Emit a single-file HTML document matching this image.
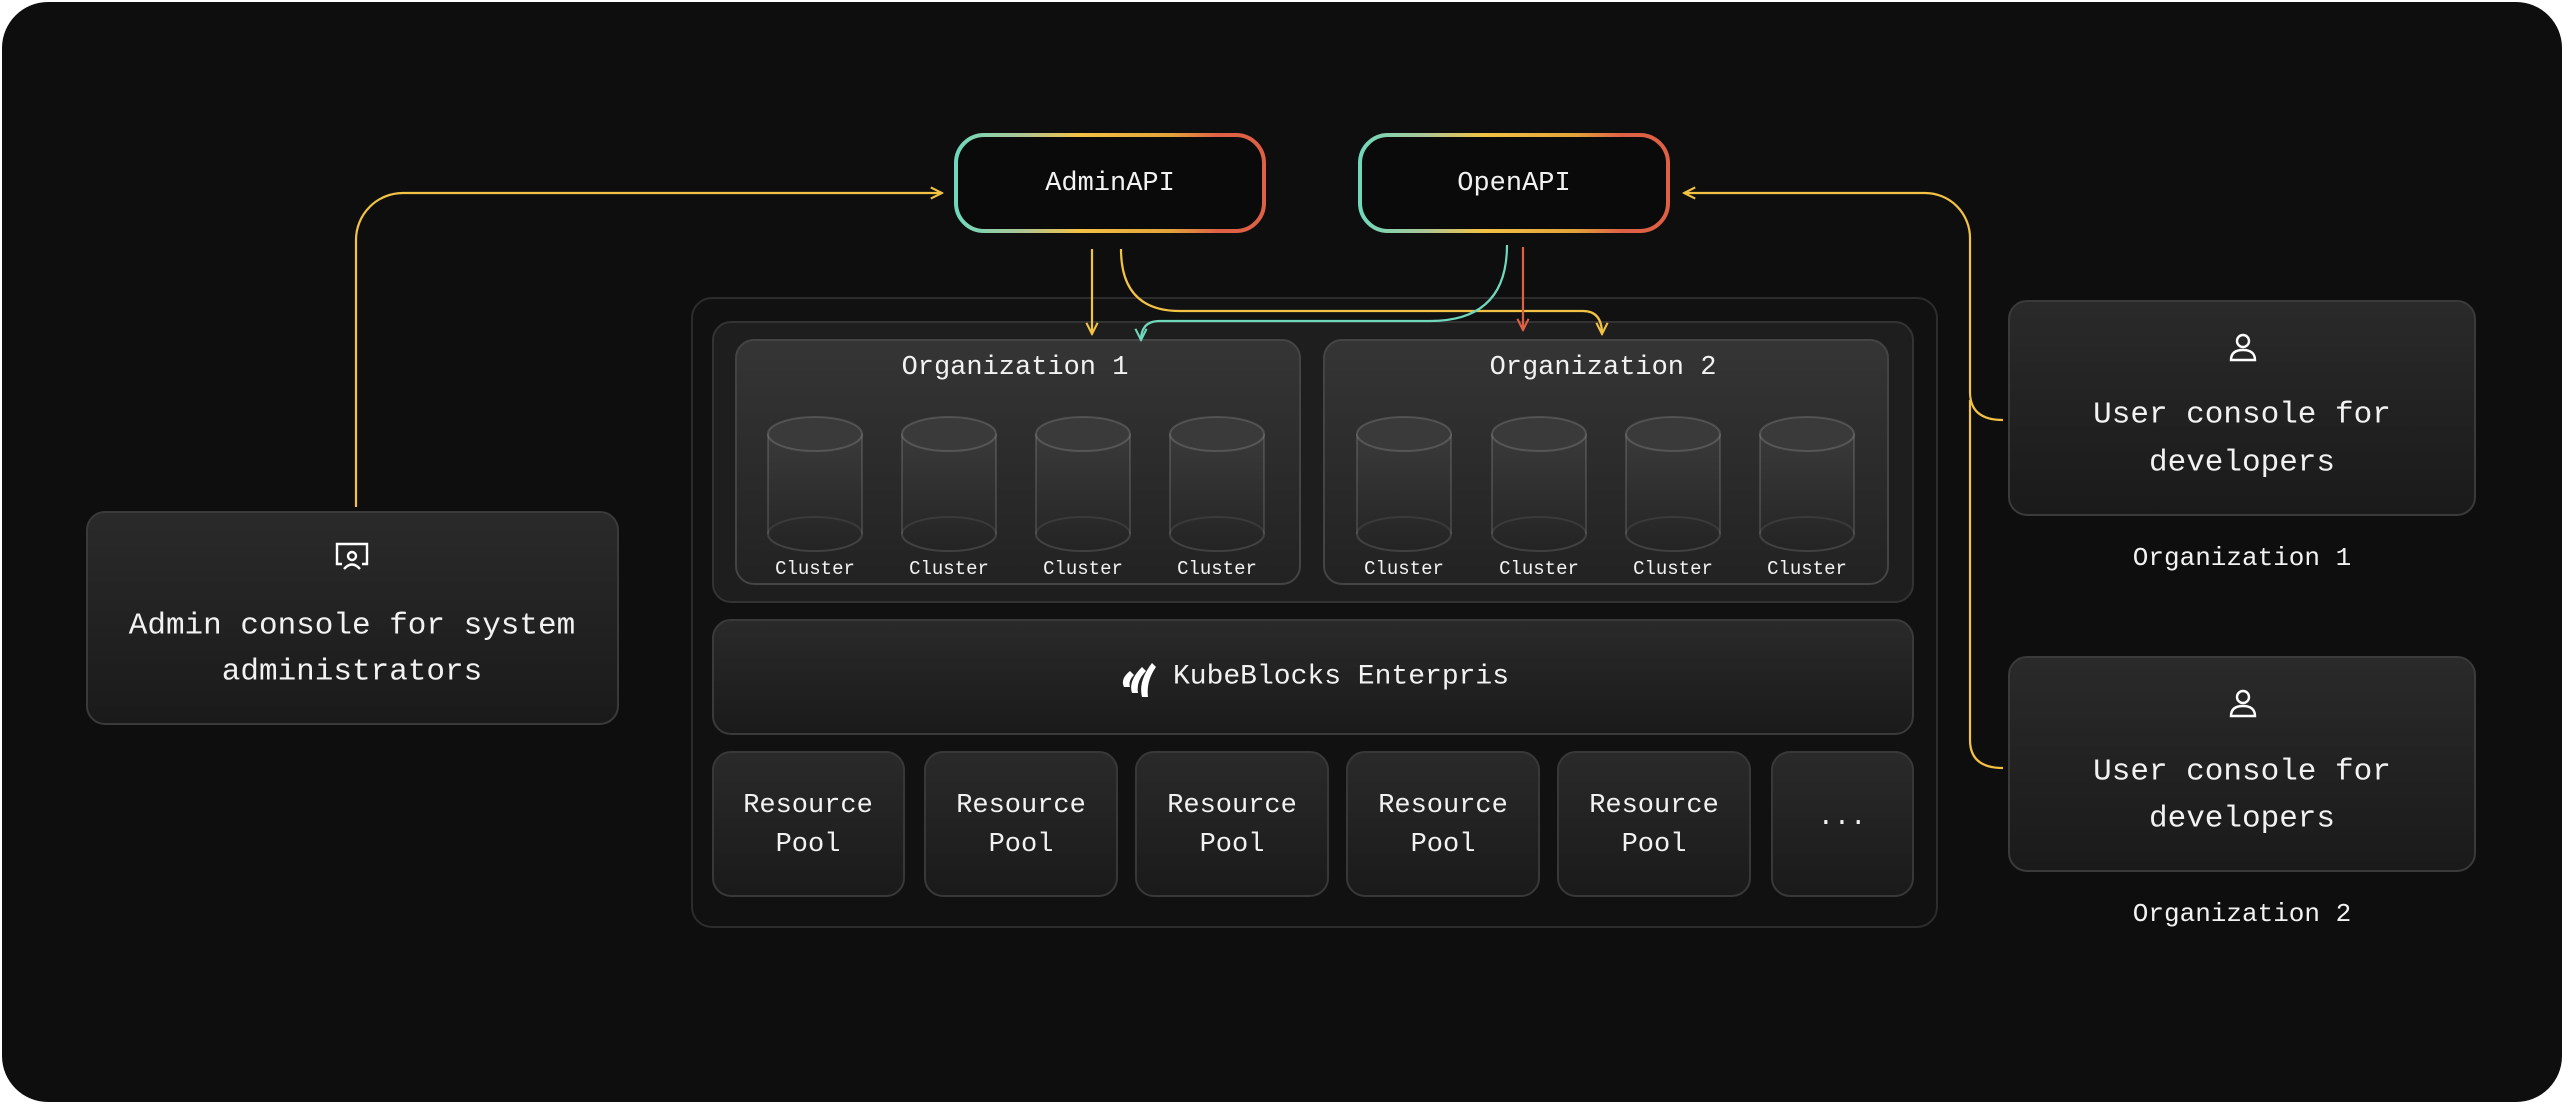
<!DOCTYPE html>
<html><head><meta charset="utf-8"><style>
html,body{margin:0;padding:0;background:#fff;}
svg{display:block}
text{font-family:"Liberation Mono",monospace;fill:#f2f2f2;text-anchor:middle;dominant-baseline:central}
</style></head><body>
<svg width="2564" height="1104" viewBox="0 0 2564 1104" xmlns="http://www.w3.org/2000/svg">
<defs>
<linearGradient id="apig" x1="0" x2="1" y1="0" y2="0">
<stop offset="0" stop-color="#6fd8bb"/><stop offset="0.2" stop-color="#a9c79a"/><stop offset="0.4" stop-color="#f2c244"/><stop offset="0.7" stop-color="#e3a23a"/><stop offset="0.85" stop-color="#df6145"/><stop offset="1" stop-color="#df6145"/>
</linearGradient>
<linearGradient id="box" x1="0" x2="0" y1="0" y2="1"><stop offset="0" stop-color="#2a2a2a"/><stop offset="1" stop-color="#1a1a1a"/></linearGradient>
<linearGradient id="org" x1="0" x2="0" y1="0" y2="1"><stop offset="0" stop-color="#353535"/><stop offset="1" stop-color="#222"/></linearGradient>
<linearGradient id="cyl" x1="0" x2="0" y1="0" y2="1"><stop offset="0" stop-color="#3a3a3a"/><stop offset="1" stop-color="#242424"/></linearGradient>
<marker id="ay" viewBox="0 0 10 10" refX="9" refY="5" markerWidth="14" markerHeight="14" markerUnits="userSpaceOnUse" orient="auto"><path d="M1 1 L9 5 L1 9" fill="none" stroke="#f2c244" stroke-width="1.5"/></marker>
<marker id="ag" viewBox="0 0 10 10" refX="9" refY="5" markerWidth="14" markerHeight="14" markerUnits="userSpaceOnUse" orient="auto"><path d="M1 1 L9 5 L1 9" fill="none" stroke="#6fd8bb" stroke-width="1.5"/></marker>
<marker id="ar" viewBox="0 0 10 10" refX="9" refY="5" markerWidth="14" markerHeight="14" markerUnits="userSpaceOnUse" orient="auto"><path d="M1 1 L9 5 L1 9" fill="none" stroke="#df6145" stroke-width="1.5"/></marker>
<g id="cy">
<path d="M-47 0 V100 A47 17 0 0 0 47 100 V0" fill="url(#cyl)" stroke="rgba(255,255,255,0.13)" stroke-width="2"/>
<path d="M-47 100 A47 17 0 0 1 47 100" fill="none" stroke="rgba(255,255,255,0.08)" stroke-width="2"/>
<ellipse cx="0" cy="0" rx="47" ry="17" fill="#3a3a3a" stroke="rgba(255,255,255,0.15)" stroke-width="2"/>
</g>
</defs>
<rect x="2" y="2" width="2560" height="1100" rx="46" fill="#0e0e0e"/>

<!-- big container -->
<rect x="692" y="298" width="1245" height="629" rx="20" fill="#111" stroke="#2c2c2c" stroke-width="2"/>
<rect x="713" y="322" width="1200" height="280" rx="18" fill="#1e1e1e" stroke="#333" stroke-width="2"/>
<rect x="736" y="340" width="564" height="244" rx="18" fill="url(#org)" stroke="#444" stroke-width="2"/>
<rect x="1324" y="340" width="564" height="244" rx="18" fill="url(#org)" stroke="#444" stroke-width="2"/>
<text x="1015" y="368" font-size="27">Organization 1</text>
<text x="1603" y="368" font-size="27">Organization 2</text>
<use href="#cy" x="815" y="434"/><use href="#cy" x="949" y="434"/><use href="#cy" x="1083" y="434"/><use href="#cy" x="1217" y="434"/>
<use href="#cy" x="1404" y="434"/><use href="#cy" x="1539" y="434"/><use href="#cy" x="1673" y="434"/><use href="#cy" x="1807" y="434"/>
<g font-size="19">
<text x="815" y="569">Cluster</text><text x="949" y="569">Cluster</text><text x="1083" y="569">Cluster</text><text x="1217" y="569">Cluster</text>
<text x="1404" y="569">Cluster</text><text x="1539" y="569">Cluster</text><text x="1673" y="569">Cluster</text><text x="1807" y="569">Cluster</text>
</g>

<!-- connectors -->
<g fill="none" stroke-width="2.2">
<path d="M356 507 V240 A47 47 0 0 1 403 193 H942" stroke="#f2c244" marker-end="url(#ay)"/>
<path d="M2003 420 Q1970 420 1970 392 V238 A45 45 0 0 0 1925 193 H1684" stroke="#f2c244" marker-end="url(#ay)"/>
<path d="M2003 768 Q1970 768 1970 740 V400" stroke="#f2c244"/>
<path d="M1092 249 V334" stroke="#f2c244" marker-end="url(#ay)"/>
<path d="M1121 249 Q1121 311 1180 311 H1583 Q1602 311 1602 334" stroke="#f2c244" marker-end="url(#ay)"/>
<path d="M1507 245 Q1507 321 1430 321 H1160 Q1141 321 1141 340" stroke="#6fd8bb" marker-end="url(#ag)"/>
<path d="M1523 247 V330" stroke="#df6145" marker-end="url(#ar)"/>
</g>

<!-- API boxes -->
<rect x="956" y="135" width="308" height="96" rx="28" fill="#0a0a0a" stroke="url(#apig)" stroke-width="4"/>
<text x="1110" y="184" font-size="27">AdminAPI</text>
<rect x="1360" y="135" width="308" height="96" rx="28" fill="#0a0a0a" stroke="url(#apig)" stroke-width="4"/>
<text x="1514" y="184" font-size="27">OpenAPI</text>

<rect x="713" y="620" width="1200" height="114" rx="18" fill="url(#box)" stroke="#3a3a3a" stroke-width="2"/>
<g fill="#fff" transform="translate(1140,679)">
<path d="M-16 8 Q-20 0 -10 -8 L-6 -4 Q-12 2 -10 8 Z"/>
<path d="M-8 14 Q-12 2 2 -12 L6 -8 Q-4 2 -2 14 Z"/>
<path d="M2 18 Q-2 2 12 -16 L16 -12 Q6 2 8 18 Z"/>
</g>
<text x="1341" y="677" font-size="28">KubeBlocks Enterpris</text>

<g>
<rect x="713" y="752" width="191" height="144" rx="18" fill="url(#box)" stroke="#383838" stroke-width="2"/>
<rect x="925" y="752" width="192" height="144" rx="18" fill="url(#box)" stroke="#383838" stroke-width="2"/>
<rect x="1136" y="752" width="192" height="144" rx="18" fill="url(#box)" stroke="#383838" stroke-width="2"/>
<rect x="1347" y="752" width="192" height="144" rx="18" fill="url(#box)" stroke="#383838" stroke-width="2"/>
<rect x="1558" y="752" width="192" height="144" rx="18" fill="url(#box)" stroke="#383838" stroke-width="2"/>
<rect x="1772" y="752" width="141" height="144" rx="18" fill="url(#box)" stroke="#383838" stroke-width="2"/>
</g>
<g font-size="27">
<text x="808" y="806">Resource</text><text x="808" y="845">Pool</text>
<text x="1021" y="806">Resource</text><text x="1021" y="845">Pool</text>
<text x="1232" y="806">Resource</text><text x="1232" y="845">Pool</text>
<text x="1443" y="806">Resource</text><text x="1443" y="845">Pool</text>
<text x="1654" y="806">Resource</text><text x="1654" y="845">Pool</text>
<text x="1842" y="818">...</text>
</g>

<!-- admin console -->
<rect x="87" y="512" width="531" height="212" rx="18" fill="url(#box)" stroke="#3a3a3a" stroke-width="2"/>
<g fill="none" stroke="#fff" stroke-width="2.4" transform="translate(352,556)">
<path d="M-10 8 H-15 V-12 H15 V8 H10"/>
<circle cx="0" cy="0" r="4"/>
<path d="M-8 13 Q0 4 8 13"/>
</g>
<text x="352" y="626" font-size="31">Admin console for system</text>
<text x="352" y="672" font-size="31">administrators</text>

<!-- user consoles -->
<rect x="2009" y="301" width="466" height="214" rx="18" fill="url(#box)" stroke="#3a3a3a" stroke-width="2"/>
<g fill="none" stroke="#fff" stroke-width="2.4" transform="translate(2243,347)"><circle cx="0" cy="-6" r="6"/><path d="M-12 13 Q-12 3 0 3 Q12 3 12 13 Z"/></g>
<text x="2242" y="415" font-size="31">User console for</text>
<text x="2242" y="463" font-size="31">developers</text>
<text x="2242" y="558" font-size="26">Organization 1</text>

<rect x="2009" y="657" width="466" height="214" rx="18" fill="url(#box)" stroke="#3a3a3a" stroke-width="2"/>
<g fill="none" stroke="#fff" stroke-width="2.4" transform="translate(2243,703)"><circle cx="0" cy="-6" r="6"/><path d="M-12 13 Q-12 3 0 3 Q12 3 12 13 Z"/></g>
<text x="2242" y="772" font-size="31">User console for</text>
<text x="2242" y="819" font-size="31">developers</text>
<text x="2242" y="914" font-size="26">Organization 2</text>
</svg>
</body></html>
